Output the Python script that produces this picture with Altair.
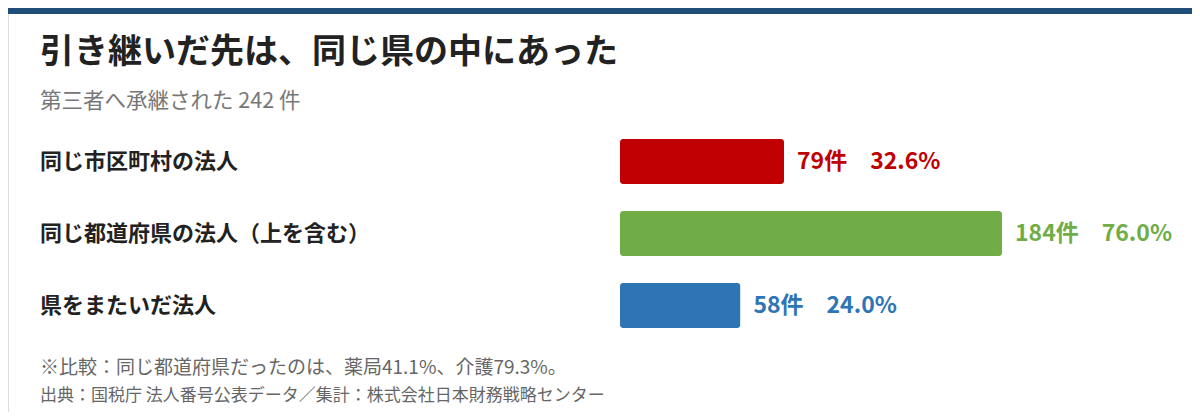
import altair as alt
import pandas as pd

categories = ["同じ市区町村の法人", "同じ都道府県の法人（上を含む）", "県をまたいだ法人"]
counts = [79, 184, 58]
shares = [32.6, 76.0, 24.0]
colors = ["#C00000", "#70AD47", "#2E75B6"]

title_text = "引き継いだ先は、同じ県の中にあった"
subtitle_text = "第三者へ承継された 242 件"
note_text = "※比較：同じ都道府県だったのは、薬局41.1%、介護79.3%。"
source_text = "出典：国税庁 法人番号公表データ／集計：株式会社日本財務戦略センター"

FONT = "Noto Sans CJK JP"
W, H = 1184, 404

df = pd.DataFrame({
    "cat": categories,
    "count": counts,
    "share": shares,
    "color": colors,
})
df["label"] = [f"{c}件　{s:.1f}%" for c, s in zip(counts, shares)]

x_scale = alt.Scale(domain=[0, 184], range=[612, 994])
y_scale = alt.Scale(domain=categories, range=[117.5, 333.5], paddingInner=0.375, paddingOuter=0.1875)
color_scale = alt.Scale(domain=categories, range=colors)

base = alt.Chart(df)

bars = base.mark_bar(cornerRadius=3).encode(
    x=alt.X("count:Q", scale=x_scale, axis=None),
    x2=alt.value(612),
    y=alt.Y("cat:N", scale=y_scale, axis=None),
    color=alt.Color("cat:N", scale=color_scale, legend=None),
)

cat_labels = base.mark_text(
    align="left", baseline="middle", font=FONT, fontSize=22, fontWeight="bold", color="#222222"
).encode(
    x=alt.value(32),
    y=alt.Y("cat:N", scale=y_scale, axis=None),
    text="cat:N",
)

val_labels = base.mark_text(
    align="left", baseline="middle", dx=13, font=FONT, fontSize=23, fontWeight="bold"
).encode(
    x=alt.X("count:Q", scale=x_scale, axis=None),
    y=alt.Y("cat:N", scale=y_scale, axis=None),
    text="label:N",
    color=alt.Color("cat:N", scale=color_scale, legend=None),
)

top_bar = alt.Chart(pd.DataFrame({"k": [0]})).mark_rect(color="#1F4E79").encode(
    x=alt.value(0), x2=alt.value(W), y=alt.value(0), y2=alt.value(6)
)

def text_layer(txt, y, size, weight, color):
    return alt.Chart(pd.DataFrame({"t": [txt]})).mark_text(
        align="left", baseline="middle", font=FONT, fontSize=size, fontWeight=weight, color=color
    ).encode(x=alt.value(32), y=alt.value(y), text="t:N")

title = text_layer(title_text, 45, 34, "bold", "#222222")
subtitle = text_layer(subtitle_text, 94, 21.5, "normal", "#777777")
note = text_layer(note_text, 360, 19, "normal", "#666666")
source = text_layer(source_text, 388, 17, "normal", "#666666")

chart = alt.layer(
    top_bar, bars, cat_labels, val_labels, title, subtitle, note, source
).properties(
    width=W, height=H, padding=0, autosize=alt.AutoSizeParams(type="none")
).configure_view(stroke=None).configure(background="white")

chart.save("out.html", embed_options={"renderer": "svg", "actions": False})
